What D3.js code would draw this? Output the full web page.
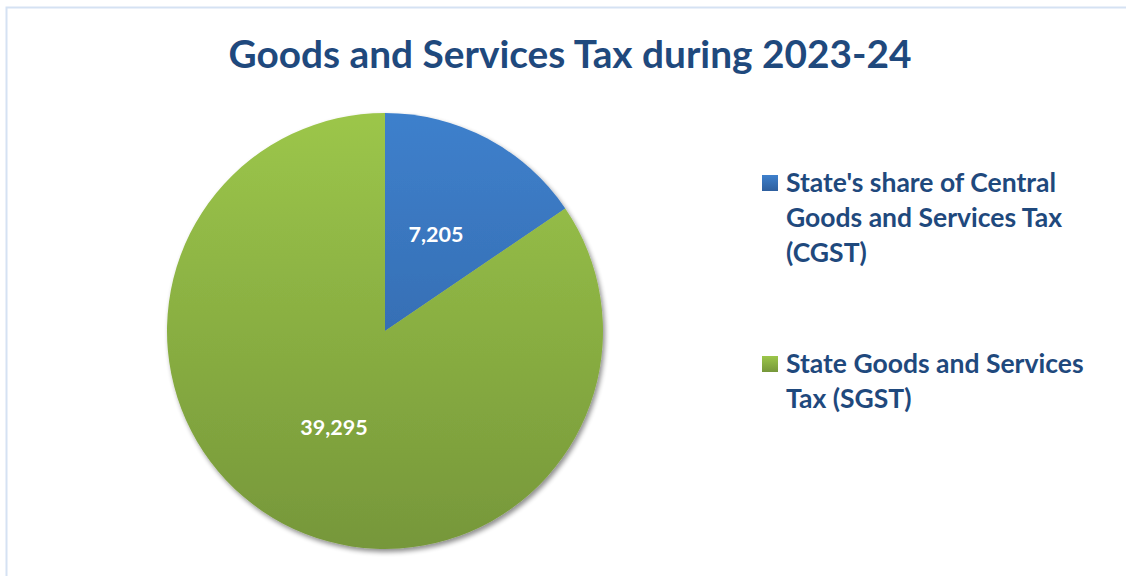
<!DOCTYPE html>
<html>
<head>
<meta charset="utf-8">
<script src="https://cdn.jsdelivr.net/npm/d3@7"></script>
<style>
  html, body { margin: 0; padding: 0; background: #fff; }
  svg { display: block; }
</style>
</head>
<body>
<svg id="chart" width="1126" height="576"></svg>
<script>
// GST collections, 2023-24 (₹ crore)
const categories = [
  "State's share of Central Goods and Services Tax (CGST)",
  "State Goods and Services Tax (SGST)"
];
const legendLines = [
  ["State's share of Central", "Goods and Services Tax", "(CGST)"],
  ["State Goods and Services", "Tax (SGST)"]
];
const values = [7205, 39295];
const title = "Goods and Services Tax during 2023-24";

const W = 1126, H = 576;
const svg = d3.select("#chart");
const textColor = "#1f497d";
const font = "Lato, 'Open Sans', sans-serif";

// Gradient pairs (top, bottom) per slice
const gradStops = [["#3e80cc", "#2e5f9e"], ["#9cc64a", "#76973a"]];
const defs = svg.append("defs");
gradStops.forEach((g, i) => {
  const lg = defs.append("linearGradient")
    .attr("id", "grad" + i)
    .attr("gradientUnits", "userSpaceOnUse")
    .attr("x1", 0).attr("y1", -218).attr("x2", 0).attr("y2", 218);
  lg.append("stop").attr("offset", "0%").attr("stop-color", g[0]);
  lg.append("stop").attr("offset", "100%").attr("stop-color", g[1]);
});
const shadow = defs.append("filter").attr("id", "shadow")
  .attr("x", "-20%").attr("y", "-20%").attr("width", "140%").attr("height", "140%");
shadow.append("feGaussianBlur").attr("in", "SourceAlpha").attr("stdDeviation", 2.5);
shadow.append("feOffset").attr("dx", 2).attr("dy", 3).attr("result", "b");
shadow.append("feComponentTransfer").append("feFuncA").attr("type", "linear").attr("slope", 0.45);
const merge = shadow.append("feMerge");
merge.append("feMergeNode");
merge.append("feMergeNode").attr("in", "SourceGraphic");

// Chart frame
svg.append("rect")
  .attr("x", 6.5).attr("y", 7.5)
  .attr("width", 1140).attr("height", 590)
  .attr("fill", "#fff")
  .attr("stroke", "#d5e2f3").attr("stroke-width", 2);

// Title
svg.append("text")
  .attr("x", 570).attr("y", 68)
  .attr("text-anchor", "middle")
  .attr("font-family", font)
  .attr("font-weight", "bold")
  .attr("font-size", 38.8)
  .attr("fill", textColor)
  .text(title);

// Pie
const cx = 385, cy = 331, r = 218;
const pie = d3.pie().sort(null).value(d => d)(values);
const arc = d3.arc().innerRadius(0).outerRadius(r);
const g = svg.append("g").attr("transform", `translate(${cx},${cy})`);
const slices = g.append("g").attr("filter", "url(#shadow)");
slices.selectAll("path")
  .data(pie)
  .join("path")
  .attr("d", arc)
  .attr("fill", (d, i) => `url(#grad${i})`);

// Value labels
const labelArc = d3.arc().innerRadius(r * 0.5).outerRadius(r * 0.5);
const fmt = d3.format(",");
g.selectAll("text.val")
  .data(pie)
  .join("text")
  .attr("class", "val")
  .attr("transform", d => {
    const p = labelArc.centroid(d);
    return `translate(${p[0]},${p[1]})`;
  })
  .attr("text-anchor", "middle")
  .attr("dy", "0.35em")
  .attr("font-family", font)
  .attr("font-weight", "bold")
  .attr("font-size", 21.5)
  .attr("fill", "#fff")
  .text(d => fmt(d.value));

// Legend
const legendX = 762;
const legendTops = [175, 356];
const lineH = 35;
legendLines.forEach((lines, i) => {
  const lgd = defs.append("linearGradient").attr("id", "lgrad" + i)
    .attr("x1", 0).attr("y1", 0).attr("x2", 0).attr("y2", 1);
  lgd.append("stop").attr("offset", "0%").attr("stop-color", gradStops[i][0]);
  lgd.append("stop").attr("offset", "100%").attr("stop-color", gradStops[i][1]);
  const lgG = svg.append("g");
  lgG.append("rect")
    .attr("x", legendX).attr("y", legendTops[i])
    .attr("width", 16).attr("height", 16)
    .attr("fill", `url(#lgrad${i})`);
  const t = lgG.append("text")
    .attr("font-family", font)
    .attr("font-weight", "bold")
    .attr("font-size", 26.5)
    .attr("fill", textColor);
  lines.forEach((ln, j) => {
    t.append("tspan")
      .attr("x", legendX + 24)
      .attr("y", legendTops[i] + 17 + j * lineH)
      .text(ln);
  });
});
</script>
</body>
</html>
